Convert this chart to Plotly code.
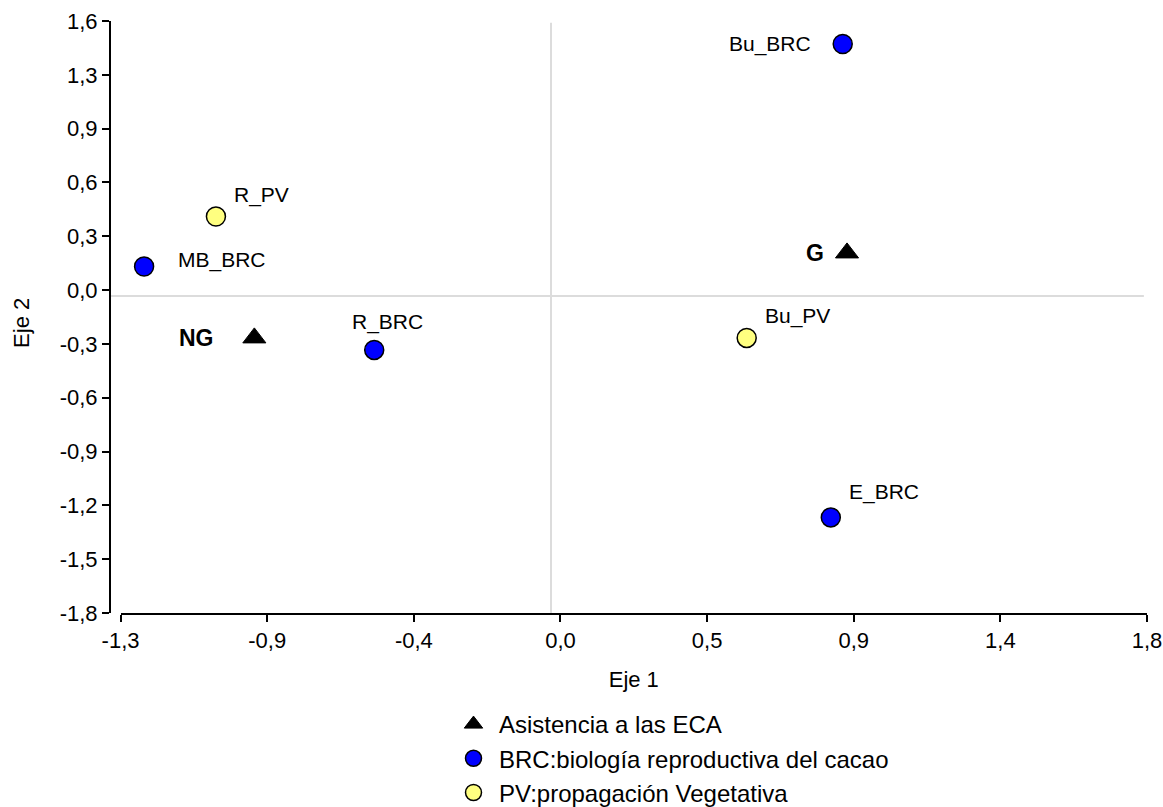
import plotly.graph_objects as go

# ---------------- data ----------------
asist_labels = ["NG", "G"]
asist_x = [-0.896, 0.894]
asist_y = [-0.240, 0.248]

brc_labels = ["Bu_BRC", "E_BRC", "R_BRC", "MB_BRC"]
brc_x = [0.881, 0.845, -0.534, -1.229]
brc_y = [1.448, -1.271, -0.309, 0.170]

pv_labels = ["R_PV", "Bu_PV"]
pv_x = [-1.012, 0.591]
pv_y = [0.457, -0.240]

x_tick_labels = ["-1,3", "-0,9", "-0,4", "0,0", "0,5", "0,9", "1,4", "1,8"]
y_tick_labels = ["-1,8", "-1,5", "-1,2", "-0,9", "-0,6", "-0,3",
                 "0,0", "0,3", "0,6", "0,9", "1,3", "1,6"]

series_names = ["Asistencia a las ECA",
                "BRC:biología reproductiva del cacao",
                "PV:propagación Vegetativa"]

x_title = "Eje 1"
y_title = "Eje 2"

# ---------------- style ----------------
FONT = "Liberation Sans, Arial, sans-serif"
X_RANGE = [-1.3, 1.8]
Y_RANGE = [-1.82, 1.58]

# label offsets in pixels (xanchor, xshift, yshift)
label_style = {
    "NG": ("right", -38, 0), "G": ("right", -21, 0),
    "Bu_BRC": ("right", -30, 0), "E_BRC": ("left", 16, 25),
    "R_BRC": ("center", 13, 28), "MB_BRC": ("left", 32, 7),
    "R_PV": ("left", 16, 22), "Bu_PV": ("left", 16, 22),
}
bold_labels = {"NG", "G"}

fig = go.Figure()
fig.add_trace(go.Scatter(
    x=asist_x, y=asist_y, mode="markers", name=series_names[0],
    marker=dict(symbol="triangle-up", size=20, color="black",
                line=dict(color="black", width=1)),
))
fig.add_trace(go.Scatter(
    x=brc_x, y=brc_y, mode="markers", name=series_names[1],
    marker=dict(symbol="circle", size=19, color="#0000ff",
                line=dict(color="black", width=1.5)),
))
fig.add_trace(go.Scatter(
    x=pv_x, y=pv_y, mode="markers", name=series_names[2],
    marker=dict(symbol="circle", size=19, color="#ffff80",
                line=dict(color="black", width=1.5)),
))

annotations = []
for labs, xs, ys in [(asist_labels, asist_x, asist_y),
                     (brc_labels, brc_x, brc_y),
                     (pv_labels, pv_x, pv_y)]:
    for lab, xv, yv in zip(labs, xs, ys):
        anc, xs_, ys_ = label_style[lab]
        bold = lab in bold_labels
        annotations.append(dict(
            x=xv, y=yv, xref="x", yref="y", text=f"<b>{lab}</b>" if bold else lab,
            showarrow=False, xanchor=anc, yanchor="middle",
            xshift=xs_, yshift=ys_,
            font=dict(family=FONT, size=23 if bold else 21, color="black"),
        ))

# y-axis title (rotated)
annotations.append(dict(
    x=(22 - 110) / 1037, y=0.49, xref="paper", yref="paper", text=y_title,
    textangle=-90, showarrow=False, xanchor="center", yanchor="middle",
    font=dict(family=FONT, size=22, color="black"),
))

nx = len(x_tick_labels)
ny = len(y_tick_labels)
x_ticks = [X_RANGE[0] + i * (X_RANGE[1] - X_RANGE[0]) / (nx - 1) for i in range(nx)]
y_ticks = [Y_RANGE[0] + i * (Y_RANGE[1] - Y_RANGE[0]) / (ny - 1) for i in range(ny)]

shapes = [
    dict(type="line", xref="paper", yref="y", x0=0, x1=0.997, y0=0, y1=0,
         line=dict(color="#dcdcdc", width=2), layer="below"),
    dict(type="line", xref="x", yref="paper", x0=0, x1=0, y0=0, y1=0.997,
         line=dict(color="#dcdcdc", width=2), layer="below"),
]

fig.update_layout(
    width=1163, height=807,
    margin=dict(l=110, r=16, t=21, b=194, autoexpand=False),
    paper_bgcolor="white", plot_bgcolor="white",
    font=dict(family=FONT, size=22, color="black"),
    showlegend=True,
    legend=dict(
        xref="container", yref="container", x=448 / 1163, y=1 - 702 / 807,
        xanchor="left", yanchor="top", itemwidth=41, tracegroupgap=0,
        font=dict(family=FONT, size=24, color="black"),
        bgcolor="rgba(0,0,0,0)",
    ),
    annotations=annotations,
    shapes=shapes,
    xaxis=dict(
        range=X_RANGE, domain=[0.0102, 1], anchor="y",
        tickmode="array", tickvals=x_ticks, ticktext=x_tick_labels,
        tickangle=0,
        showline=True, linecolor="black", linewidth=2,
        ticks="outside", ticklen=7, tickwidth=1.5, tickcolor="black",
        showgrid=False, zeroline=False,
        tickfont=dict(family=FONT, size=22, color="black"),
        title=dict(text=x_title, font=dict(family=FONT, size=22, color="black"), standoff=19),
    ),
    yaxis=dict(
        range=Y_RANGE, domain=[0, 1], anchor="free", position=0,
        tickmode="array", tickvals=y_ticks, ticktext=y_tick_labels,
        showline=True, linecolor="black", linewidth=2,
        ticks="outside", ticklen=7, tickwidth=1.5, tickcolor="black",
        showgrid=False, zeroline=False,
        tickfont=dict(family=FONT, size=22, color="black"),
    ),
)

fig.write_html("out.html")
